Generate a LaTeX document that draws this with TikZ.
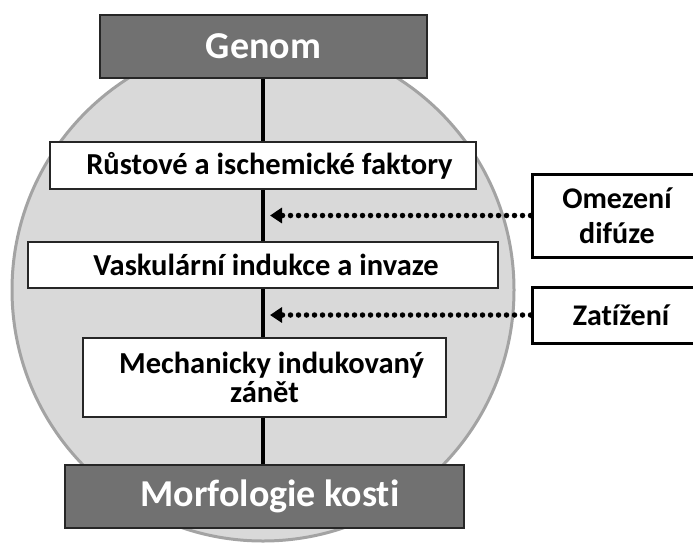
\documentclass[tikz,border=0pt]{standalone}
\usepackage{fontspec}
\setmainfont{Carlito}[Ligatures=NoCommon]
\usetikzlibrary{arrows.meta}
\definecolor{disc}{HTML}{D9D9D9}
\definecolor{discedge}{HTML}{A3A3A3}
\definecolor{darkbox}{HTML}{717171}
\begin{document}
\begin{tikzpicture}[x=1pt,y=-1pt,
  darkstage/.style={draw=black!85,line width=2pt,fill=darkbox,text=white,
    font=\fontsize{38}{42}\selectfont\bfseries,inner sep=0pt},
  stage/.style={draw=black!85,line width=2pt,fill=white,text=black,
    font=\fontsize{30.5}{29}\selectfont\bfseries,inner sep=0pt,align=center},
  factor/.style={draw=black,line width=3pt,fill=white,text=black,
    font=\fontsize{30}{35}\selectfont\bfseries,inner sep=0pt,align=center},
  flow/.style={line width=4pt,black},
  influence/.style={line width=5.5pt,black,line cap=round,
    dash pattern=on 0pt off 8pt,
    -{Triangle[length=12pt,width=15pt,line cap=butt]}}
]
\useasboundingbox (0,0) rectangle (693,549);
\clip (0,0) rectangle (693,549);

% background disc
\fill[disc,draw=discedge,line width=3pt] (263,290) circle (251);

% main chain
\node[darkstage,minimum width=327,minimum height=63] (genom) at (263.5,46.5) {Genom};
\node[stage,minimum width=426,minimum height=47] (b1) at (263,165.5)
  {\hspace*{13pt}Růstové a ischemické faktory};
\node[stage,minimum width=470,minimum height=46] (b2) at (263,265)
  {\hspace*{6pt}Vaskulární indukce a invaze};
\node[stage,minimum width=363,minimum height=79] (b3) at (264.5,377)
  {\hspace*{14pt}Mechanicky indukovaný\\zánět};
\node[darkstage,minimum width=399,minimum height=63] (morf) at (264.5,496.5)
  {\hspace*{11pt}Morfologie kosti};

\draw[flow] (263,0 |- genom.south) coordinate (g0) -- (g0 |- b1.north);
\draw[flow] (263,0 |- b1.south) coordinate (g1) -- (g1 |- b2.north);
\draw[flow] (263,0 |- b2.south) coordinate (g2) -- (g2 |- b3.north);
\draw[flow] (263,0 |- b3.south) coordinate (g3) -- (g3 |- morf.north);

% external factors
\node[factor,minimum width=178,minimum height=83] (omez) at (621,215.5)
  {\hspace*{-8pt}Omezení\\\hspace*{-8pt}difúze};
\node[factor,minimum width=178,minimum height=56] (zat) at (621,315)
  {Zatížení};

\coordinate (t1) at (270,215.5);
\coordinate (t2) at (270,315);
\draw[influence] (omez.west) -- (t1);
\draw[influence] (zat.west) -- (t2);
\end{tikzpicture}
\end{document}
